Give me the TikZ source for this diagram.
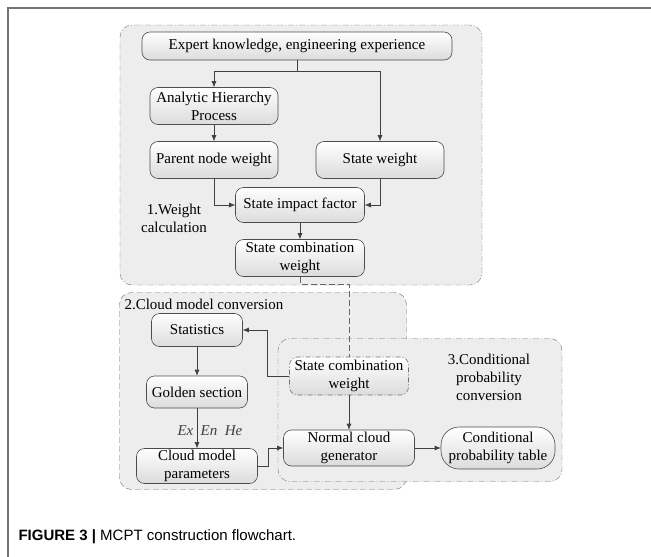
\documentclass[tikz,border=0pt]{standalone}
\usepackage{fontspec}
\setmainfont{Liberation Serif}
\newfontfamily\capfont{Liberation Sans}
\usepackage{tikz}
\usetikzlibrary{arrows.meta,positioning,calc}
\tikzset{
  stepbox/.style={draw=black!70, semithick, rounded corners=8pt, top color=white, bottom color=black!14, align=center, inner sep=0pt, font=\fontsize{15}{18}\selectfont},
  dashbox/.style={stepbox, draw=black!55, dash pattern=on 5pt off 2pt on 1pt off 2pt},
  group/.style={draw=black!55, thin, rounded corners=12pt, fill=black!7, dash pattern=on 6pt off 2pt on 1pt off 2pt},
  flow/.style={-{Latex[length=6pt,width=5pt]}, black!75, semithick},
  link/.style={black!60, semithick, dash pattern=on 6pt off 3pt},
  label/.style={align=center, font=\fontsize{15}{18}\selectfont},
  frame/.style={black!55, line width=1.4pt},
}
\begin{document}
\begin{tikzpicture}[x=1pt,y=-1pt]
  \useasboundingbox (0,0) rectangle (651,557);
  \draw[frame] (651,8) -- (8,8) -- (8,557);
  % groups
  \node[group, minimum width=362pt, minimum height=260pt] (g1) at (301,155) {};
  \node[group, dash pattern=on 6pt off 3pt, minimum width=287pt, minimum height=197pt] (g2) at (263,391) {};
  \node[group, minimum width=284pt, minimum height=143pt] (g3) at (420,410) {};
  % 1. weight calculation
  \node[stepbox, minimum width=310pt, minimum height=28pt] (expert) at (297,46) {Expert knowledge, engineering experience};
  \node[stepbox, minimum width=128pt, minimum height=37pt] (ahp) at (214,106) {Analytic Hierarchy\\Process};
  \node[stepbox, minimum width=128pt, minimum height=37pt] (parent) at (214,160) {Parent node weight};
  \node[stepbox, minimum width=128pt, minimum height=37pt] (sweight) at (380,160) {State weight};
  \node[stepbox, minimum width=129pt, minimum height=35pt] (impact) at (300,205) {State impact factor};
  \node[stepbox, minimum width=129pt, minimum height=37pt] (comb) at (300,258) {State combination\\weight};
  \node[label] (l1) at (174,218) {1.Weight\\calculation};
  % 2. cloud model conversion
  \node[label, anchor=west] (l2) at (121,304) {2.Cloud model conversion};
  \node[stepbox, minimum width=91pt, minimum height=33pt] (stats) at (197,330) {Statistics};
  \node[stepbox, minimum width=101pt, minimum height=32pt] (golden) at (197,392) {Golden section};
  \node[stepbox, minimum width=121pt, minimum height=35pt] (cparam) at (197,466) {Cloud model\\parameters};
  % 3. conditional probability conversion
  \node[dashbox, minimum width=119pt, minimum height=38pt] (comb2) at (349,376) {State combination\\weight};
  \node[stepbox, minimum width=131pt, minimum height=36pt] (normal) at (349,448) {Normal cloud\\generator};
  \node[stepbox, rounded corners=18pt, minimum width=114pt, minimum height=42pt] (cpt) at (498,448) {Conditional\\probability table};
  \node[label] (l3) at (489,377) {3.Conditional\\probability\\conversion};
  % connectors
  \draw[flow] (expert.south) -- ++(0,11) -| (ahp.north);
  \draw[flow] (expert.south) -- ++(0,11) -| (sweight.north);
  \draw[flow] (ahp) -- (parent);
  \draw[flow] (parent.south) |- (impact.west);
  \draw[flow] (sweight.south) |- (impact.east);
  \draw[flow] (impact) -- (comb);
  \draw[link] (comb.south) -- ++(0,7) -| (comb2.north);
  \draw[flow] (comb2.west) -- ++(-22,0) |- (stats.east);
  \draw[flow] (stats) -- (golden);
  \draw[flow] (golden) -- node[label, left, pos=0.55, font=\fontsize{15}{18}\selectfont\itshape]{Ex}
    node[label, right, pos=0.55, font=\fontsize{15}{18}\selectfont\itshape]{En~~He} (cparam);
  \draw[flow] (cparam.east) -- ++(10,0) |- (normal.west);
  \draw[flow] (comb2) -- (normal);
  \draw[flow] (normal) -- (cpt);
  % caption
  \node[anchor=west, font=\capfont\fontsize{15}{17}\selectfont] (cap) at (15,537) {\textbf{FIGURE 3 |} MCPT construction flowchart.};
\end{tikzpicture}
\end{document}
